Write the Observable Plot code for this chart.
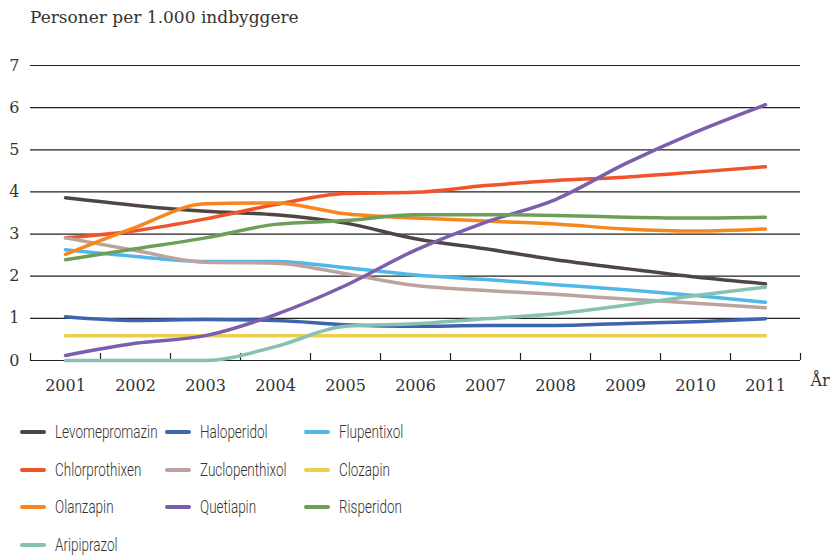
<!DOCTYPE html>
<html>
<head>
<meta charset="utf-8">
<script src="https://cdn.jsdelivr.net/npm/d3@7"></script>
<script src="https://cdn.jsdelivr.net/npm/@observablehq/plot@0.6"></script>
<style>
  html, body { margin: 0; padding: 0; background: #fff; }
  #wrap { position: relative; width: 830px; height: 556px; overflow: hidden; }
  #title { position: absolute; left: 30px; top: 7px; font-family: "DejaVu Serif", serif; font-size: 17px; color: #333; }
  #chart { position: absolute; left: 0; top: 40px; }
  #legend { position: absolute; left: 20px; top: 413px; display: grid; grid-template-columns: 145px 139px 200px; grid-auto-rows: 37.7px; font-family: Roboto, "DejaVu Sans", sans-serif; font-weight: 300; font-size: 19px; line-height: 20px; color: #333; }
  .item { display: flex; align-items: center; white-space: nowrap; }
  .sw { flex: 0 0 26px; width: 26px; height: 4px; border-radius: 2px; margin-right: 9px; }
  .lbl { display: inline-block; transform: scaleX(0.71); transform-origin: left center; }
</style>
</head>
<body>
<div id="wrap">
  <div id="title">Personer per 1.000 indbyggere</div>
  <div id="chart"></div>
  <div id="legend"></div>
</div>
<script>
const years = [2001, 2002, 2003, 2004, 2005, 2006, 2007, 2008, 2009, 2010, 2011];
const yTicks = [0, 1, 2, 3, 4, 5, 6, 7];
const xBoundaries = [2000.5, 2001.5, 2002.5, 2003.5, 2004.5, 2005.5, 2006.5, 2007.5, 2008.5, 2009.5, 2010.5, 2011.5];

const names = ["Levomepromazin", "Haloperidol", "Flupentixol", "Chlorprothixen", "Zuclopenthixol", "Clozapin", "Olanzapin", "Quetiapin", "Risperidon", "Aripiprazol"];
const colors = ["#4f4641", "#3f64ae", "#4fb8e8", "#f1532a", "#bda39e", "#e9d04f", "#f7861f", "#7a5fac", "#6e9f58", "#88c0b1"];

const levomepromazin = [3.86, 3.68, 3.54, 3.46, 3.26, 2.89, 2.65, 2.39, 2.18, 1.98, 1.82];
const haloperidol    = [1.04, 0.95, 0.97, 0.95, 0.85, 0.81, 0.83, 0.83, 0.88, 0.92, 0.99];
const flupentixol    = [2.63, 2.47, 2.35, 2.35, 2.20, 2.03, 1.92, 1.80, 1.68, 1.54, 1.38];
const chlorprothixen = [2.91, 3.08, 3.36, 3.70, 3.96, 3.99, 4.15, 4.27, 4.35, 4.47, 4.60];
const zuclopenthixol = [2.91, 2.61, 2.33, 2.31, 2.06, 1.78, 1.66, 1.57, 1.46, 1.36, 1.25];
const clozapin       = [0.59, 0.59, 0.59, 0.59, 0.59, 0.59, 0.59, 0.59, 0.59, 0.59, 0.59];
const olanzapin      = [2.52, 3.16, 3.72, 3.74, 3.48, 3.38, 3.31, 3.24, 3.12, 3.07, 3.12];
const quetiapin      = [0.12, 0.41, 0.59, 1.09, 1.78, 2.62, 3.28, 3.82, 4.67, 5.42, 6.07];
const risperidon     = [2.39, 2.65, 2.91, 3.23, 3.32, 3.46, 3.46, 3.44, 3.40, 3.38, 3.40];
const aripiprazol    = [0.00, 0.00, 0.00, 0.33, 0.81, 0.87, 0.99, 1.11, 1.31, 1.54, 1.74];

const seriesValues = [levomepromazin, haloperidol, flupentixol, chlorprothixen, zuclopenthixol, clozapin, olanzapin, quetiapin, risperidon, aripiprazol];

const data = [];
names.forEach((name, i) => {
  years.forEach((year, j) => data.push({name, year, value: seriesValues[i][j]}));
});

const axisFont = {fontFamily: "DejaVu Serif, serif", fontSize: "16px"};

const chart = Plot.plot({
  width: 830,
  height: 360,
  marginLeft: 30,
  marginRight: 30,
  marginTop: 25,
  marginBottom: 40,
  style: {background: "#fff", color: "#333", overflow: "visible"},
  x: {domain: [2000.5, 2011.5]},
  y: {domain: [0, 7]},
  color: {domain: names, range: colors},
  marks: [
    Plot.ruleY(yTicks, {stroke: "#222", strokeWidth: 1.2}),
    Plot.axisY({ticks: yTicks, tickSize: 0, tickPadding: 11, tickFormat: d => String(d), label: null, ...axisFont, fill: "#333"}),
    Plot.axisX({ticks: xBoundaries, tickSize: -7, tickFormat: () => "", label: null, stroke: "#222", strokeWidth: 1.2}),
    Plot.axisX({ticks: years, tickSize: 0, tickPadding: 19, tickFormat: d => String(d), label: null, ...axisFont, fill: "#333"}),
    Plot.line(data, {x: "year", y: "value", stroke: "name", z: "name", strokeWidth: 3.5, curve: "monotone-x", strokeLinecap: "round", strokeLinejoin: "round"}),
    Plot.text(["År"], {frameAnchor: "bottom-right", dx: 10, dy: 25, textAnchor: "start", ...axisFont, fill: "#333"})
  ]
});
document.getElementById("chart").appendChild(chart);

const legend = document.getElementById("legend");
names.forEach((name, i) => {
  const item = document.createElement("div");
  item.className = "item";
  const sw = document.createElement("span");
  sw.className = "sw";
  sw.style.background = colors[i];
  const lbl = document.createElement("span");
  lbl.className = "lbl";
  lbl.textContent = name;
  item.appendChild(sw);
  item.appendChild(lbl);
  legend.appendChild(item);
});
</script>
</body>
</html>
